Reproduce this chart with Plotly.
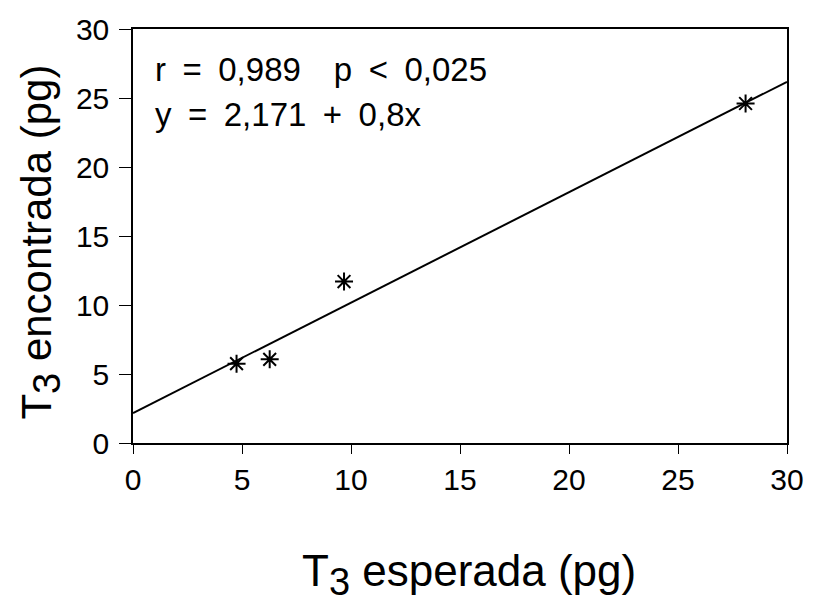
import plotly.graph_objects as go

# Measured T3 amounts (pg): expected vs. found
t3_esperada = [4.75, 6.27, 9.68, 28.1]
t3_encontrada = [5.75, 6.06, 11.7, 24.6]

# Regression line y = a + b*x
intercepto = 2.171
pendiente = 0.8
x_linea = [0, 30]
y_linea = [intercepto + pendiente * v for v in x_linea]

tick_vals = [0, 5, 10, 15, 20, 25, 30]
tick_text = ["0", "5", "10", "15", "20", "25", "30"]

FONT = "Liberation Sans, Arial, sans-serif"
EN = "\u2002"  # en space for the wider word gaps

fig = go.Figure()
fig.add_trace(go.Scatter(
    x=x_linea, y=y_linea, mode="lines",
    line=dict(color="black", width=2), showlegend=False,
))
fig.add_trace(go.Scatter(
    x=t3_esperada, y=t3_encontrada, mode="markers",
    marker=dict(symbol="asterisk-open", size=15, color="black",
                line=dict(color="black", width=2)),
    showlegend=False,
))

axis_common = dict(
    range=[0, 30], tickvals=tick_vals, ticktext=tick_text,
    showgrid=False, zeroline=False, showline=True, linecolor="black",
    linewidth=1.5, mirror=True, ticks="outside", tickcolor="black",
    tickwidth=1.2, tickfont=dict(family=FONT, size=30, color="black"),
)
fig.update_xaxes(**axis_common, ticklen=9)
fig.update_yaxes(**axis_common, ticklen=12, ticklabelstandoff=4)

linea1 = f"r{EN}={EN}0,989{EN}{EN}p{EN}<{EN}0,025"
linea2 = f"y{EN}={EN}2,171{EN}+{EN}0,8x"
fig.add_annotation(
    text=linea1, xref="paper", yref="paper",
    x=0.03, y=0.902, xanchor="left", yanchor="middle", showarrow=False,
    font=dict(family=FONT, size=33, color="black"),
)
fig.add_annotation(
    text=linea2, xref="paper", yref="paper",
    x=0.03, y=0.794, xanchor="left", yanchor="middle", showarrow=False,
    font=dict(family=FONT, size=33, color="black"),
)

sub3 = '<sub><span style="font-size:38px">3</span></sub>'
fig.add_annotation(
    text=f"T{sub3} esperada (pg)", xref="paper", yref="paper",
    x=0.514, y=-0.318, xanchor="center", yanchor="middle", showarrow=False,
    font=dict(family=FONT, size=44, color="black"),
)
fig.add_annotation(
    text=f"T{sub3} encontrada (pg)", xref="paper", yref="paper",
    x=-0.141, y=0.486, xanchor="center", yanchor="middle", showarrow=False,
    textangle=-90, font=dict(family=FONT, size=42, color="black"),
)

fig.update_layout(
    width=816, height=607,
    margin=dict(l=133, r=24, t=19, b=164),
    paper_bgcolor="white", plot_bgcolor="white",
)

fig.write_html("out.html")
